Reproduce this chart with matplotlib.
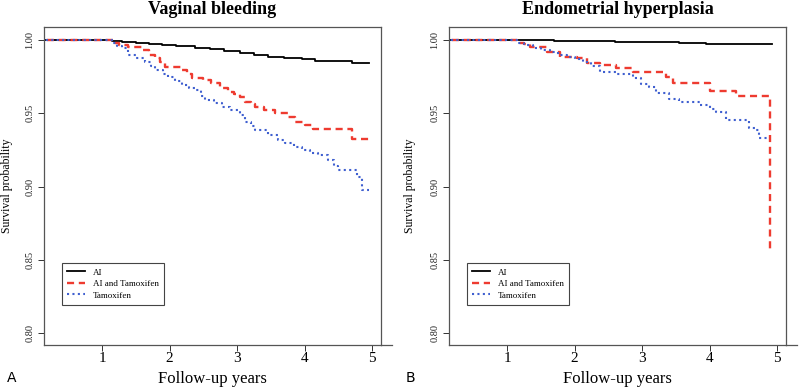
import matplotlib
matplotlib.use("Agg")
import matplotlib.pyplot as plt

# Kaplan-Meier step points (time in years, survival)
vb_ai_t = [0.0, 1.14, 1.3, 1.5, 1.7, 1.88, 2.1, 2.38, 2.6, 2.8, 3.04, 3.25, 3.46, 3.7, 3.96, 4.16, 4.70, 4.95]
vb_ai_s = [1.0, 0.9993, 0.9985, 0.9978, 0.9972, 0.9966, 0.9958, 0.9948, 0.9938, 0.9925, 0.991, 0.9898, 0.9886, 0.988, 0.9872, 0.9857, 0.9843, 0.9843]

vb_combo_t = [0.0, 1.16, 1.25, 1.39, 1.59, 1.7, 1.79, 1.86, 1.93, 2.18, 2.26, 2.33, 2.5, 2.62, 2.75, 2.87, 2.96, 3.04, 3.12, 3.2, 3.27, 3.4, 3.56, 3.76, 3.86, 4.01, 4.13, 4.70, 4.95]
vb_combo_s = [1.0, 0.998, 0.9965, 0.9955, 0.9932, 0.990, 0.9875, 0.985, 0.9818, 0.9795, 0.977, 0.9739, 0.9725, 0.9705, 0.967, 0.9647, 0.963, 0.961, 0.9579, 0.956, 0.9545, 0.952, 0.950, 0.9477, 0.9443, 0.942, 0.939, 0.9323, 0.9323]

vb_tam_t = [0.0, 1.15, 1.22, 1.29, 1.39, 1.5, 1.64, 1.72, 1.79, 1.9, 1.98, 2.08, 2.18, 2.28, 2.38, 2.46, 2.53, 2.65, 2.77, 2.9, 3.04, 3.12, 3.2, 3.27, 3.46, 3.6, 3.71, 3.84, 3.96, 4.08, 4.2, 4.35, 4.43, 4.5, 4.77, 4.85, 4.95]
vb_tam_s = [1.0, 0.998, 0.996, 0.9943, 0.9898, 0.988, 0.9852, 0.982, 0.9795, 0.977, 0.975, 0.972, 0.9693, 0.9675, 0.9659, 0.962, 0.959, 0.957, 0.9545, 0.952, 0.9488, 0.9443, 0.941, 0.9386, 0.9352, 0.932, 0.9295, 0.927, 0.925, 0.923, 0.9216, 0.918, 0.914, 0.9114, 0.9068, 0.8977, 0.8977]

eh_ai_t = [0.0, 1.29, 1.7, 2.2, 2.6, 3.0, 3.55, 3.95, 4.92]
eh_ai_s = [1.0, 0.9997, 0.9995, 0.9992, 0.999, 0.9988, 0.9978, 0.997, 0.997]

eh_combo_t = [0.0, 1.14, 1.25, 1.34, 1.59, 1.78, 2.03, 2.18, 2.37, 2.62, 2.86, 3.36, 3.45, 4.0, 4.39, 4.89]
eh_combo_s = [1.0, 0.998, 0.997, 0.9955, 0.992, 0.9886, 0.9875, 0.9841, 0.983, 0.9807, 0.9784, 0.9745, 0.9705, 0.9654, 0.962, 0.856]

eh_tam_t = [0.0, 1.14, 1.25, 1.38, 1.5, 1.63, 1.75, 1.88, 2.0, 2.12, 2.25, 2.37, 2.62, 2.86, 2.98, 3.1, 3.21, 3.4, 3.55, 3.85, 4.0, 4.09, 4.24, 4.44, 4.58, 4.68, 4.73, 4.88]
eh_tam_s = [1.0, 0.998, 0.9965, 0.9943, 0.993, 0.992, 0.990, 0.9886, 0.987, 0.9852, 0.982, 0.9784, 0.9766, 0.9739, 0.970, 0.968, 0.9636, 0.960, 0.958, 0.9557, 0.953, 0.951, 0.9454, 0.9454, 0.940, 0.9386, 0.933, 0.933]

titles = ["Vaginal bleeding", "Endometrial hyperplasia"]
panel_tags = ["A", "B"]
group_names = ["AI", "AI and Tamoxifen", "Tamoxifen"]
x_ticks = [1, 2, 3, 4, 5]
y_ticks = [0.80, 0.85, 0.90, 0.95, 1.00]

serif = ["Liberation Serif", "DejaVu Serif"]
red = "#ee3b30"
blue = "#3f5fd0"
styles = [dict(color="black", lw=1.3, ls="-"),
          dict(color=red, lw=1.7, ls=(0, (3, 2))),
          dict(color=blue, lw=1.5, ls=(0, (1, 1.6)))]

panels = [
    [(vb_ai_t, vb_ai_s), (vb_combo_t, vb_combo_s), (vb_tam_t, vb_tam_s)],
    [(eh_ai_t, eh_ai_s), (eh_combo_t, eh_combo_s), (eh_tam_t, eh_tam_s)],
]

fig = plt.figure(figsize=(8, 3.89), dpi=100)
lefts = [44 / 800, 449 / 800]
tag_x = [7 / 800, 406 / 800]
ylab_x = [7 / 800, 410 / 800]

for i, curves in enumerate(panels):
    ax = fig.add_axes([lefts[i], 1 - 345 / 389, 337 / 800, 318 / 389])
    for (t, s), name, st in zip(curves, group_names, styles):
        ax.plot(t, s, drawstyle="steps-post", label=name, **st)

    ax.set_xlim(0.14, 5.13)
    ax.set_ylim(0.7918, 1.0089)
    ax.set_xticks(x_ticks)
    ax.set_xticklabels([str(x) for x in x_ticks], fontfamily=serif, fontsize=11)
    ax.set_yticks(y_ticks)
    ax.set_yticklabels([f"{y:.2f}" for y in y_ticks], fontfamily=serif,
                       fontsize=7.5, rotation=90, va="center")
    ax.tick_params(axis="both", direction="out", length=4, width=0.7, colors="#333333")
    ax.tick_params(axis="x", pad=1, labelcolor="black")
    ax.tick_params(axis="y", pad=3, labelcolor="#222222")
    for sp in ax.spines.values():
        sp.set_color("#555555")
        sp.set_linewidth(0.9)
    # bottom axis line runs a little past the box
    ax.plot([1, 1.033], [0, 0], transform=ax.transAxes, color="#555555",
            lw=0.9, clip_on=False)

    ax.set_title(titles[i], fontfamily=serif, fontsize=13, fontweight="bold", pad=9)
    fig.text(lefts[i] + 337 / 1600, 0.026, "Follow-up years", fontfamily=serif,
             fontsize=12, ha="center", va="center")
    fig.text(ylab_x[i], 1 - 186 / 389, "Survival probability", fontfamily=serif,
             fontsize=8.5, rotation=90, ha="center", va="center")
    fig.text(tag_x[i], 1 - 378 / 389, panel_tags[i], fontfamily="DejaVu Sans",
             fontsize=10, ha="left", va="center")

    leg = ax.legend(loc="lower left", bbox_to_anchor=(0.053, 0.126), borderaxespad=0,
                    prop={"family": serif, "size": 6.5}, handlelength=2.0,
                    labelspacing=0.35, borderpad=0.6, handletextpad=0.8,
                    fancybox=False, framealpha=1)
    leg.get_frame().set_edgecolor("#444444")
    leg.get_frame().set_linewidth(0.8)

fig.savefig("out.png", dpi=100)
